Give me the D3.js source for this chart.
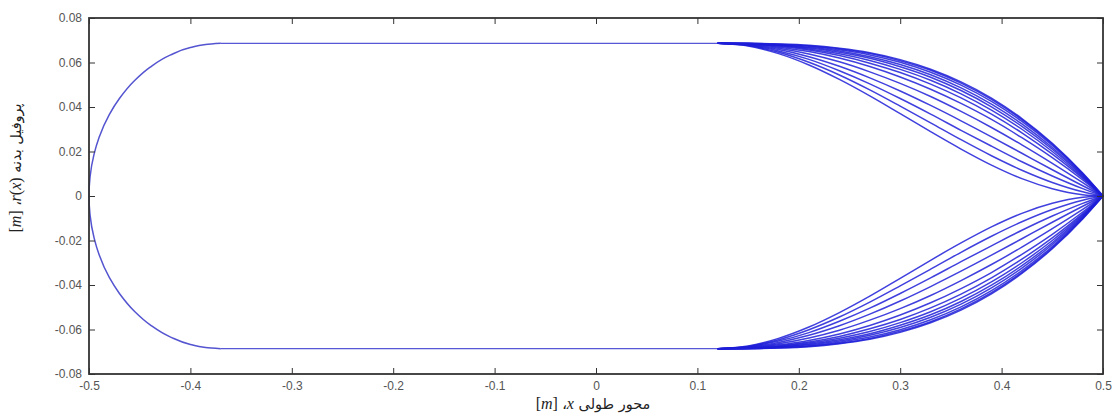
<!DOCTYPE html>
<html>
<head>
<meta charset="utf-8">
<script src="https://cdn.jsdelivr.net/npm/d3@7"></script>
<style>
  html, body { margin: 0; padding: 0; background: #fff; }
  svg { display: block; }
</style>
</head>
<body>
<svg id="chart" width="1116" height="414"></svg>
<script>
// ---- data ----
const xTicks = [-0.5, -0.4, -0.3, -0.2, -0.1, 0, 0.1, 0.2, 0.3, 0.4, 0.5];
const yTicks = [0.08, 0.06, 0.04, 0.02, 0, -0.02, -0.04, -0.06, -0.08];

// nose (upper half), x in m, r in m
const noseX = [-0.5, -0.499, -0.495, -0.49, -0.48, -0.47, -0.455, -0.44, -0.42, -0.40, -0.385, -0.37];
const noseR = [0, 0.0085, 0.0188, 0.0264, 0.0366, 0.0438, 0.0519, 0.0578, 0.0633, 0.0667, 0.0681, 0.0686];

// cylindrical body
const bodyX = [-0.37, 0.12];
const bodyR = 0.0686;

// tail family (upper half)
const tailX = [0.12, 0.15, 0.18, 0.21, 0.24, 0.27, 0.30, 0.33, 0.36, 0.39, 0.42, 0.45, 0.48, 0.50];
const tailR = [
  [0.0686, 0.0674, 0.0640, 0.0589, 0.0524, 0.0450, 0.0370, 0.0289, 0.0211, 0.0139, 0.0078, 0.0033, 0.0006, 0],
  [0.0686, 0.0676, 0.0646, 0.0601, 0.0544, 0.0477, 0.0404, 0.0329, 0.0253, 0.0181, 0.0116, 0.0061, 0.0019, 0],
  [0.0686, 0.0677, 0.0652, 0.0614, 0.0563, 0.0504, 0.0438, 0.0368, 0.0295, 0.0224, 0.0154, 0.0090, 0.0033, 0],
  [0.0686, 0.0679, 0.0658, 0.0626, 0.0583, 0.0531, 0.0472, 0.0407, 0.0338, 0.0266, 0.0192, 0.0118, 0.0046, 0],
  [0.0686, 0.0681, 0.0664, 0.0638, 0.0603, 0.0558, 0.0506, 0.0447, 0.0380, 0.0308, 0.0230, 0.0147, 0.0060, 0],
  [0.0686, 0.0682, 0.0669, 0.0649, 0.0620, 0.0582, 0.0535, 0.0480, 0.0416, 0.0344, 0.0262, 0.0172, 0.0072, 0],
  [0.0686, 0.0683, 0.0673, 0.0656, 0.0631, 0.0597, 0.0555, 0.0503, 0.0441, 0.0368, 0.0284, 0.0188, 0.0079, 0],
  [0.0686, 0.0684, 0.0676, 0.0661, 0.0639, 0.0609, 0.0569, 0.0520, 0.0459, 0.0386, 0.0300, 0.0200, 0.0085, 0],
  [0.0686, 0.0684, 0.0678, 0.0665, 0.0646, 0.0619, 0.0581, 0.0534, 0.0474, 0.0401, 0.0313, 0.0210, 0.0090, 0],
  [0.0686, 0.0685, 0.0679, 0.0669, 0.0652, 0.0626, 0.0591, 0.0545, 0.0486, 0.0413, 0.0324, 0.0218, 0.0094, 0],
  [0.0686, 0.0685, 0.0681, 0.0673, 0.0657, 0.0634, 0.0601, 0.0556, 0.0498, 0.0425, 0.0335, 0.0227, 0.0098, 0],
  [0.0686, 0.0686, 0.0682, 0.0675, 0.0662, 0.0640, 0.0608, 0.0565, 0.0507, 0.0434, 0.0343, 0.0233, 0.0101, 0],
  [0.0686, 0.0686, 0.0683, 0.0677, 0.0664, 0.0644, 0.0613, 0.0570, 0.0513, 0.0440, 0.0348, 0.0237, 0.0103, 0]
];

// axis titles, pieces in visual left-to-right order: [text, italic?, persian?]
const xLabelParts = [["[", false, false], ["m", true, false], ["] ،", false, false], ["x", true, false], [" محور طولی", false, true]];
const yLabelParts = [["[", false, false], ["m", true, false], ["] ،", false, false], ["r", true, false], ["(", false, false], ["x", true, false], [")", false, false], ["  پروفیل بدنه", false, true]];

// ---- layout ----
const svg = d3.select("#chart");
const L = 89, R = 1103, T = 18, B = 374;
const x = d3.scaleLinear().domain([-0.5, 0.5]).range([L, R]);
const y = d3.scaleLinear().domain([-0.08, 0.08]).range([B, T]);

const lineColor = "#1e1ed8";
const fmt = d => String(d);

// curves
const line = d3.line().x(d => x(d[0])).y(d => y(d[1])).curve(d3.curveMonotoneX);
const lineY = d3.line().x(d => x(d[0])).y(d => y(d[1])).curve(d3.curveMonotoneY);
const g = svg.append("g");

const nosePts = [];
for (let i = noseX.length - 1; i >= 0; i--) nosePts.push([noseX[i], -noseR[i]]);
for (let i = 1; i < noseX.length; i++) nosePts.push([noseX[i], noseR[i]]);
g.append("path").attr("d", lineY(nosePts))
  .attr("fill", "none").attr("stroke", "#3636c8").attr("stroke-width", 1.5).attr("stroke-opacity", 0.85);

[1, -1].forEach(s => {
  g.append("path").attr("d", line(bodyX.map(v => [v, s * bodyR])))
    .attr("fill", "none").attr("stroke", "#3a3ad0").attr("stroke-width", 1.3).attr("stroke-opacity", 0.85);
  tailR.forEach(rs => {
    g.append("path").attr("d", line(tailX.map((v, i) => [v, s * rs[i]])))
      .attr("fill", "none").attr("stroke", lineColor).attr("stroke-width", 1.5).attr("stroke-opacity", 0.85);
  });
});

// axes
const tickColor = "#333";
const labelColor = "#555";
const axB = svg.append("g").attr("transform", `translate(0,${B})`)
  .call(d3.axisBottom(x).tickValues(xTicks).tickSize(-6).tickPadding(7).tickFormat(fmt));
const axT = svg.append("g").attr("transform", `translate(0,${T})`)
  .call(d3.axisTop(x).tickValues(xTicks).tickSize(-6).tickFormat(""));
const axL = svg.append("g").attr("transform", `translate(${L},0)`)
  .call(d3.axisLeft(y).tickValues(yTicks).tickSize(-6).tickPadding(7).tickFormat(fmt));
const axR = svg.append("g").attr("transform", `translate(${R},0)`)
  .call(d3.axisRight(y).tickValues(yTicks).tickSize(-6).tickFormat(""));
[axB, axT, axL, axR].forEach(a => {
  a.select(".domain").remove();
  a.selectAll(".tick line").attr("stroke", tickColor).attr("stroke-width", 1);
  a.selectAll(".tick text").attr("fill", labelColor)
    .style("font-family", "Arial, 'Liberation Sans', sans-serif").style("font-size", "12px");
});

svg.append("rect").attr("x", L).attr("y", T).attr("width", R - L).attr("height", B - T)
  .attr("fill", "none").attr("stroke", "#333").attr("stroke-width", 1.8);

// axis titles
function addLabel(sel, parts) {
  sel.attr("text-anchor", "middle").attr("direction", "ltr").attr("fill", "#222")
    .style("font-family", "'Liberation Serif', 'DejaVu Serif', serif").style("font-size", "16px");
  parts.forEach(p => {
    const t = sel.append("tspan").text(p[0]);
    if (p[1]) t.style("font-style", "italic");
    if (p[2]) t.style("font-family", "'DejaVu Sans', sans-serif").style("font-size", "14.5px");
  });
}
addLabel(svg.append("text").attr("x", 593).attr("y", 409), xLabelParts);
addLabel(svg.append("text").attr("transform", "translate(21,168) rotate(-90)"), yLabelParts);
</script>
</body>
</html>
